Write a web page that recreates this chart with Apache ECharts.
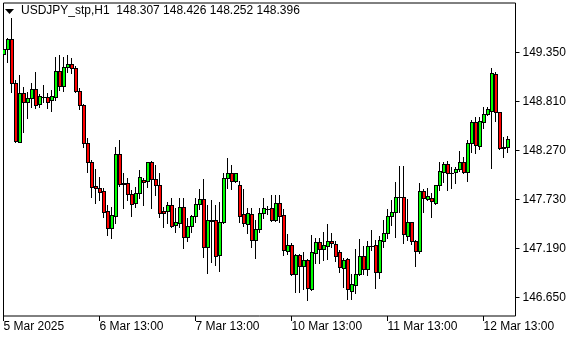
<!DOCTYPE html>
<html><head><meta charset="utf-8">
<script src="https://cdn.jsdelivr.net/npm/echarts@6/dist/echarts.min.js"></script>
<style>html,body{margin:0;padding:0;background:#fff}#c{width:580px;height:340px}</style>
</head><body><div id="c"></div>
<script>
const symbolName = 'USDJPY_stp,H1';
const opens = [149.331,149.386,149.496,149.012,148.366,148.902,148.806,148.847,148.946,148.781,
148.861,148.864,148.825,148.861,149.144,148.979,149.185,149.221,149.174,148.924,
148.770,148.358,148.146,147.879,147.854,147.824,147.604,147.414,147.552,148.228,
147.912,147.909,147.791,147.689,147.799,147.945,147.937,148.140,147.953,147.890,
147.604,147.604,147.670,147.450,147.475,147.651,147.321,147.439,147.549,147.678,
147.733,147.211,147.511,147.505,147.120,147.480,147.964,148.019,147.937,147.890,
147.571,147.461,147.571,147.285,147.403,147.586,147.632,147.634,147.505,147.689,
147.560,147.167,147.230,146.908,147.120,146.999,147.065,146.746,147.145,147.263,
147.183,147.222,147.274,147.241,147.153,146.974,147.076,146.727,146.790,146.908,
147.109,146.962,147.219,147.227,146.930,147.277,147.359,147.549,147.590,147.755,
147.755,147.329,147.480,147.277,147.167,147.824,147.739,147.750,147.689,147.890,
148.036,148.121,148.025,148.030,148.063,148.140,148.036,148.349,148.586,148.322,
148.586,148.671,148.707,149.111,148.690,148.305,148.307];
const closes = [149.386,149.496,149.012,148.374,148.899,148.803,148.850,148.946,148.770,148.869,
148.864,148.806,148.869,149.144,148.979,149.188,149.221,149.174,148.924,148.770,
148.355,148.146,147.871,147.854,147.816,147.596,147.414,147.560,148.228,147.898,
147.901,147.791,147.681,147.799,147.975,147.920,148.140,147.953,147.890,147.578,
147.585,147.670,147.439,147.486,147.651,147.321,147.439,147.549,147.681,147.733,
147.211,147.505,147.500,147.112,147.486,147.964,148.019,147.937,148.019,147.549,
147.469,147.578,147.285,147.403,147.586,147.634,147.626,147.505,147.689,147.552,
147.175,147.230,146.908,147.120,146.999,147.065,146.757,147.153,147.263,147.183,
147.230,147.274,147.249,147.109,146.985,147.065,146.743,146.801,146.911,147.109,
146.962,147.219,147.222,146.930,147.285,147.359,147.549,147.590,147.755,147.758,
147.351,147.480,147.274,147.167,147.824,147.744,147.769,147.714,147.890,148.047,
148.121,148.019,148.028,148.063,148.140,148.036,148.349,148.586,148.330,148.594,
148.671,148.726,149.119,148.690,148.294,148.294,148.396];
const highs = [149.496,149.507,149.727,149.045,149.100,148.968,148.916,149.012,149.133,148.891,
148.990,148.902,148.935,149.301,149.320,149.298,149.320,149.287,149.199,148.957,
148.781,148.407,148.165,148.066,147.978,147.857,147.670,147.651,148.305,148.385,
148.022,147.967,147.835,147.871,148.055,147.967,148.146,148.157,148.110,148.025,
147.645,147.706,147.744,147.634,147.744,147.744,147.524,147.560,147.744,147.843,
147.953,147.670,147.725,147.670,147.706,148.019,148.184,148.110,148.025,147.937,
147.843,147.634,147.634,147.505,147.634,147.744,147.659,147.780,147.780,147.780,
147.623,147.351,147.249,147.131,147.131,147.156,147.076,147.340,147.304,147.304,
147.376,147.461,147.362,147.274,147.175,147.084,147.084,146.911,147.186,147.296,
147.219,147.277,147.395,147.285,147.329,147.505,147.623,147.725,147.926,148.099,
148.099,147.733,147.486,147.285,147.909,147.843,147.860,147.799,147.895,148.146,
148.146,148.157,148.091,148.091,148.267,148.201,148.385,148.605,148.641,148.641,
148.751,148.751,149.174,149.136,148.690,148.421,148.426];
const lows = [149.265,149.243,148.913,148.363,148.363,148.473,148.627,148.748,148.737,148.748,
148.803,148.737,148.704,148.825,148.935,148.924,149.133,149.122,148.913,148.726,
148.308,148.033,147.758,147.692,147.725,147.538,147.340,147.307,147.475,147.882,
147.637,147.725,147.552,147.651,147.747,147.670,147.871,147.634,147.780,147.541,
147.431,147.469,147.431,147.376,147.431,147.194,147.277,147.376,147.486,147.623,
147.101,146.925,147.046,147.010,146.947,147.469,147.854,147.843,147.923,147.486,
147.439,147.359,147.212,147.084,147.376,147.524,147.571,147.500,147.494,147.486,
147.120,147.131,146.900,146.716,146.716,146.746,146.625,146.735,147.035,147.032,
147.065,147.073,147.208,147.057,146.936,146.771,146.633,146.633,146.699,146.900,
146.908,146.900,147.175,146.757,146.864,147.205,147.304,147.450,147.315,147.596,
147.255,147.285,147.238,147.002,147.139,147.596,147.725,147.534,147.680,147.835,
147.926,147.835,147.854,147.909,148.044,148.019,147.937,148.256,148.245,148.283,
148.514,148.660,148.074,148.597,148.286,148.195,148.252];
const xTickIndex = [0, 24, 48, 72, 96, 120];
const xTickLabels = ['5 Mar 2025', '6 Mar 13:00', '7 Mar 13:00', '10 Mar 13:00', '11 Mar 13:00', '12 Mar 13:00'];
const yTicks = [146.650, 147.190, 147.730, 148.270, 148.810, 149.350];
const slotCount = 129; // bar slots incl. empty right margin

const FONT = 'Liberation Sans';
const BULL = '#00ff00', BEAR = '#ff0000';
const cats = Array.from({length: slotCount}, (_, i) => String(i));
const rows = opens.map((o, i) => [i, o, closes[i], lows[i], highs[i]]);
const last = opens.length - 1;
const lastClose = closes[last];
const header = symbolName + '  ' + [opens[last], highs[last], lows[last], closes[last]].map(v => v.toFixed(3)).join(' ');

function renderCandle(params, api) {
  const i = api.value(0), o = api.value(1), c = api.value(2), l = api.value(3), h = api.value(4);
  const pO = api.coord([i, o]), pC = api.coord([i, c]), pL = api.coord([i, l]), pH = api.coord([i, h]);
  const cx = Math.floor(pO[0]);
  const yH = Math.round(pH[1]), yL = Math.round(pL[1]);
  const top = Math.round(Math.min(pO[1], pC[1])), bot = Math.round(Math.max(pO[1], pC[1]));
  const children = [
    {type: 'rect', shape: {x: cx, y: yH, width: 1, height: yL - yH + 1}, style: {fill: '#000'}},
    {type: 'rect', shape: {x: cx - 1, y: top, width: 4, height: bot - top + 1}, style: {fill: '#000'}}
  ];
  if (bot - top >= 2) {
    children.push({type: 'rect', shape: {x: cx, y: top + 1, width: 2, height: bot - top - 1},
      style: {fill: c >= o ? BULL : BEAR}});
  }
  return {type: 'group', children};
}

const chart = echarts.init(document.getElementById('c'), null, {renderer: 'canvas'});
chart.setOption({
  animation: false,
  backgroundColor: '#ffffff',
  grid: {left: 3.5, right: 64.5, top: 3, bottom: 24, show: true, borderColor: '#000', borderWidth: 1, backgroundColor: 'transparent'},
  xAxis: {
    type: 'category', data: cats, boundaryGap: false,
    axisLine: {show: false},
    axisTick: {show: true, length: 5, lineStyle: {color: '#000'}, interval: (i) => xTickIndex.indexOf(i) >= 0},
    axisLabel: {show: true, interval: (i) => xTickIndex.indexOf(i) >= 0, align: 'left', margin: 5,
      color: '#000', fontFamily: FONT, fontSize: 12,
      formatter: (v) => { const k = xTickIndex.indexOf(Number(v)); return k >= 0 ? xTickLabels[k] : ''; }},
    splitLine: {show: false}
  },
  yAxis: {
    type: 'value', position: 'right', min: 146.449, max: 149.895,
    axisLine: {show: false}, splitLine: {show: false},
    axisTick: {show: true, length: 4, lineStyle: {color: '#000'}, customValues: yTicks},
    axisLabel: {show: true, customValues: yTicks, margin: 7, color: '#000', fontFamily: FONT, fontSize: 12,
      formatter: (v) => Number(v).toFixed(3)}
  },
  series: [{
    type: 'custom', data: rows, renderItem: renderCandle, clip: true,
    encode: {x: 0, y: [1, 2, 3, 4]},
    markLine: {
      silent: true, symbol: 'none', animation: false,
      lineStyle: {opacity: 0},
      data: [{yAxis: lastClose}],
      label: {show: true, position: 'end', distance: 1, formatter: lastClose.toFixed(3),
        backgroundColor: '#000', color: '#fff', fontFamily: FONT, fontSize: 12, padding: [1, 26, 0, 4]}
    }
  }],
  graphic: [
    {type: 'polygon', shape: {points: [[5, 9], [14, 9], [9.5, 14]]}, style: {fill: '#000'}, z: 100},
    {type: 'text', left: 21, top: 5, style: {text: header, fill: '#000', font: '12px ' + FONT}, z: 100}
  ]
});
</script></body></html>
